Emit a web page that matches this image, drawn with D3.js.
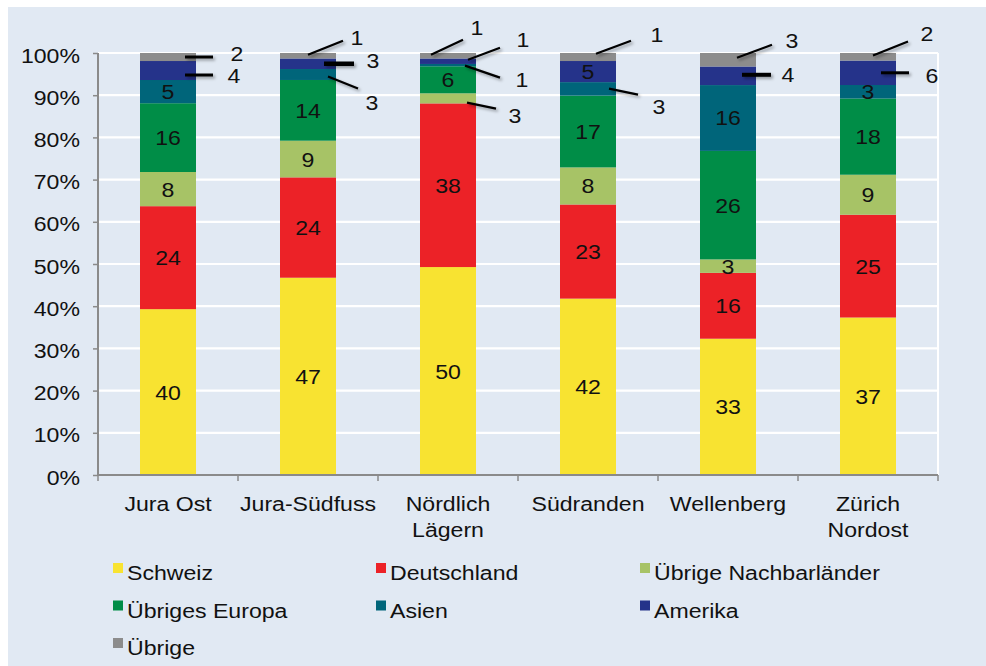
<!DOCTYPE html>
<html><head><meta charset="utf-8">
<script src="https://cdn.jsdelivr.net/npm/d3@7/dist/d3.min.js"></script>
<style>
body{margin:0;background:#fff}
text{font-family:"Liberation Sans",Arial,Helvetica,sans-serif;fill:#111}
</style>
</head><body>
<svg id="chart" width="986" height="666"></svg>
<script>
// ---------- data ----------
const categories = ["Jura Ost", "Jura-Südfuss", "Nördlich\nLägern", "Südranden", "Wellenberg", "Zürich\nNordost"];
const seriesNames = ["Schweiz", "Deutschland", "Übrige Nachbarländer", "Übriges Europa", "Asien", "Amerika", "Übrige"];
// shares (%)
const schweiz        = [39.3, 46.8, 49.3, 41.8, 32.3, 37.4];
const deutschland    = [24.4, 23.8, 38.8, 22.3, 15.6, 24.4];
const uebrigeNachbar = [8.1, 8.7, 2.4, 8.8, 3.2, 9.5];
const uebrigesEuropa = [16.3, 14.4, 6.4, 17.0, 25.7, 18.1];
const asien          = [5.5, 2.6, 0.55, 3.2, 15.6, 3.2];
const amerika        = [4.5, 2.5, 1.3, 5.0, 4.4, 5.8];
const uebrige        = [1.9, 1.3, 1.3, 1.9, 3.2, 1.8];
// printed (rounded) labels
const schweizLbl  = [40, 47, 50, 42, 33, 37];
const deutschLbl  = [24, 24, 38, 23, 16, 25];
const nachbarLbl  = [8, 9, 3, 8, 3, 9];
const europaLbl   = [16, 14, 6, 17, 26, 18];
const asienLbl    = [5, 3, 1, 3, 16, 3];
const amerikaLbl  = [4, 3, 1, 5, 4, 6];
const uebrigeLbl  = [2, 1, 1, 1, 3, 2];
const yTicks = [0, 0.1, 0.2, 0.3, 0.4, 0.5, 0.6, 0.7, 0.8, 0.9, 1.0];

const seriesValues = [schweiz, deutschland, uebrigeNachbar, uebrigesEuropa, asien, amerika, uebrige];
const seriesLabels = [schweizLbl, deutschLbl, nachbarLbl, europaLbl, asienLbl, amerikaLbl, uebrigeLbl];
const colors = ["#f8e331", "#ec2227", "#a7c366", "#008d47", "#00657a", "#25338a", "#8c8c8c"];

// ---------- callout layout (offsets from bar right edge / segment middle) ----------
const callouts = [
  {c:0, s:6, a:[-11,0],   b:[17,0],    t:[41,-4],   w:3},
  {c:0, s:5, a:[-11,4.5], b:[17,4.5],  t:[38,5],    w:3},
  {c:1, s:6, a:[-28,-1],  b:[7,-15],   t:[21,-18],  w:2.2},
  {c:1, s:5, a:[-12,0],   b:[18,0],    t:[37,-3],   w:4.5},
  {c:1, s:4, a:[-8,2],    b:[22,14],   t:[36,28],   w:2.2},
  {c:2, s:6, a:[-45,-1],  b:[-13,-16], t:[1,-28],   w:2.2},
  {c:2, s:5, a:[-8,-1.5], b:[24,-13.5],t:[47,-21.5],w:2.2},
  {c:2, s:4, a:[-11,0.5], b:[24,12.5], t:[46,14.5], w:2.2},
  {c:2, s:2, a:[-9,4.3],  b:[20,10.3], t:[39,17.3], w:2.2},
  {c:3, s:6, a:[-20,-3.3],b:[15,-16.3],t:[41,-22.3],w:2.2},
  {c:3, s:4, a:[-7,-0.3], b:[22,5.7],  t:[43,17.7], w:2.2},
  {c:4, s:6, a:[-19,-2],  b:[16,-15],  t:[36,-19],  w:2.2},
  {c:4, s:5, a:[-14,-1],  b:[15,-1],   t:[32,-1],   w:4},
  {c:5, s:6, a:[-23,-1.2],b:[12,-15.2],t:[31,-23.2],w:2.2},
  {c:5, s:5, a:[-15,0],   b:[13,0],    t:[36,3],    w:3}
];

// ---------- setup ----------
const svg = d3.select("#chart");
const W = 986, H = 666;
const plot = {left: 98, right: 938, top: 53, bottom: 475};
const FS = 21, SX = 1.1;

const defs = svg.append("defs");
const f = defs.append("filter").attr("id","sh").attr("filterUnits","userSpaceOnUse")
  .attr("x",0).attr("y",0).attr("width",W).attr("height",H);
f.append("feDropShadow").attr("dx",2).attr("dy",2).attr("stdDeviation",1.8).attr("flood-color","#000").attr("flood-opacity",0.35);

svg.append("rect").attr("x",8).attr("y",7).attr("width",W-8).attr("height",H-7).attr("fill","#e1e9f3");

const x = d3.scaleBand().domain(categories).range([plot.left, plot.right]).paddingInner(0.6).paddingOuter(0.3);
const y = d3.scaleLinear().domain([0,1]).range([plot.bottom, plot.top]);

const rows = categories.map((c,i) => {
  const r = {cat: c};
  seriesNames.forEach((s,k) => r[s] = seriesValues[k][i]);
  return r;
});
const stacked = d3.stack().keys(seriesNames).offset(d3.stackOffsetExpand)(rows);

function txt(g, str, px, py, anchor) {
  return g.append("text")
    .attr("transform", `translate(${px},${py}) scale(${SX},1)`)
    .attr("text-anchor", anchor || "middle")
    .attr("font-size", FS)
    .text(str);
}

// gridlines
svg.append("g").selectAll("line").data(yTicks.slice(1)).join("line")
  .attr("x1", plot.left).attr("x2", plot.right)
  .attr("y1", d => y(d)).attr("y2", d => y(d))
  .attr("stroke", "#fff").attr("stroke-width", 2.2);
svg.append("line").attr("x1", plot.right).attr("x2", plot.right)
  .attr("y1", plot.top).attr("y2", plot.bottom).attr("stroke","#fff").attr("stroke-width",2);

// bars
const gBars = svg.append("g");
stacked.forEach((ser, k) => {
  gBars.append("g").attr("fill", colors[k]).selectAll("rect").data(ser).join("rect")
    .attr("x", d => x(d.data.cat)).attr("width", x.bandwidth())
    .attr("y", d => y(d[1])).attr("height", d => y(d[0]) - y(d[1]));
});

// axes
const axisColor = "#8a8a8a";
const gx = svg.append("g").attr("transform", `translate(0,${plot.bottom})`)
  .call(d3.axisBottom(x).tickSize(0).tickFormat(""));
gx.select(".domain").attr("stroke", axisColor).attr("stroke-width", 2).attr("d", `M${plot.left},0H${plot.right}`);
const bounds = d3.range(categories.length + 1).map(i => plot.left + i * x.step());
gx.selectAll(".bt").data(bounds).join("line").attr("class","bt")
  .attr("x1", d => d).attr("x2", d => d).attr("y1", 0).attr("y2", 6)
  .attr("stroke", axisColor).attr("stroke-width", 1.5);

const gy = svg.append("g").attr("transform", `translate(${plot.left},0)`)
  .call(d3.axisLeft(y).tickValues(yTicks).tickSize(5).tickFormat(""));
gy.select(".domain").attr("stroke", axisColor).attr("stroke-width", 2).attr("d", `M0,${plot.top}V${plot.bottom}`);
gy.selectAll(".tick line").attr("stroke", axisColor).attr("stroke-width", 1.5);

// y tick labels
const gyl = svg.append("g");
yTicks.forEach(t => txt(gyl, d3.format(".0%")(t), 80, y(t) + 9.5, "end"));

// x labels
const gxl = svg.append("g");
categories.forEach(c => {
  c.split("\n").forEach((line, j) => txt(gxl, line, x(c) + x.bandwidth()/2, 511 + j * 26));
});

// value labels
const gl = svg.append("g");
stacked.forEach((ser, k) => {
  ser.forEach((d, i) => {
    const mid = (y(d[0]) + y(d[1])) / 2;
    const co = callouts.find(o => o.c === i && o.s === k);
    const label = seriesLabels[k][i];
    if (co) {
      const xr = x(d.data.cat) + x.bandwidth();
      gl.append("line")
        .attr("x1", xr + co.a[0]).attr("y1", mid + co.a[1])
        .attr("x2", xr + co.b[0]).attr("y2", mid + co.b[1])
        .attr("stroke", "#000").attr("stroke-width", co.w).attr("filter","url(#sh)");
      txt(gl, label, xr + co.t[0], mid + co.t[1] + 7.5);
    } else {
      txt(gl, label, x(d.data.cat) + x.bandwidth()/2, mid + 7.5);
    }
  });
});

// legend
const gLeg = svg.append("g");
const legCols = [113, 376, 640], legRows = [563, 600.5, 638];
seriesNames.forEach((s, k) => {
  const lx = legCols[k % 3], ly = legRows[Math.floor(k / 3)];
  gLeg.append("rect").attr("x", lx).attr("y", ly).attr("width", 10).attr("height", 10).attr("fill", colors[k]);
  txt(gLeg, s, lx + 14, ly + 17, "start");
});
</script>
</body></html>
